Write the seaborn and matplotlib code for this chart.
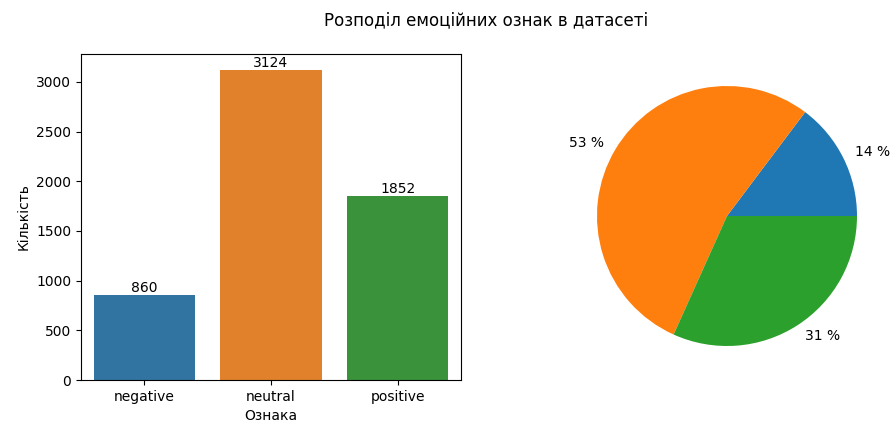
import matplotlib
matplotlib.use("Agg")
import matplotlib.pyplot as plt
import seaborn as sns
import pandas as pd

# Sentiment class counts in the dataset
labels = ["negative", "neutral", "positive"]
counts = [860, 3124, 1852]

df = pd.DataFrame({"Ознака": labels, "Кількість": counts})
total = sum(counts)
pct_labels = [f"{int(c / total * 100)} %" for c in counts]

W, H = 895, 424
fig = plt.figure(figsize=(W / 100, H / 100), dpi=100)
fig.suptitle("Розподіл емоційних ознак в датасеті", fontsize=12,
             x=486 / W, y=0.953, va="center")

# Bar chart of counts
ax_bar = fig.add_axes([81 / W, 44 / H, 380 / W, 326 / H])
sns.barplot(data=df, x="Ознака", y="Кількість", hue="Ознака",
            palette="tab10", legend=False, ax=ax_bar)
for container in ax_bar.containers:
    ax_bar.bar_label(container, fontsize=10)

# Pie chart of shares
R = 130
cx, cy = 727, 424 - 216
lim = 1.25
side = 2 * R * lim
ax_pie = fig.add_axes([(cx - side / 2) / W, (cy - side / 2) / H, side / W, side / H])
ax_pie.pie(counts, colors=sns.color_palette("tab10", len(counts)),
           labels=pct_labels, labeldistance=1.1)
ax_pie.set_xlim(-lim, lim)
ax_pie.set_ylim(-lim, lim)
ax_pie.set_aspect("equal")

fig.savefig("out.png", dpi=100)
